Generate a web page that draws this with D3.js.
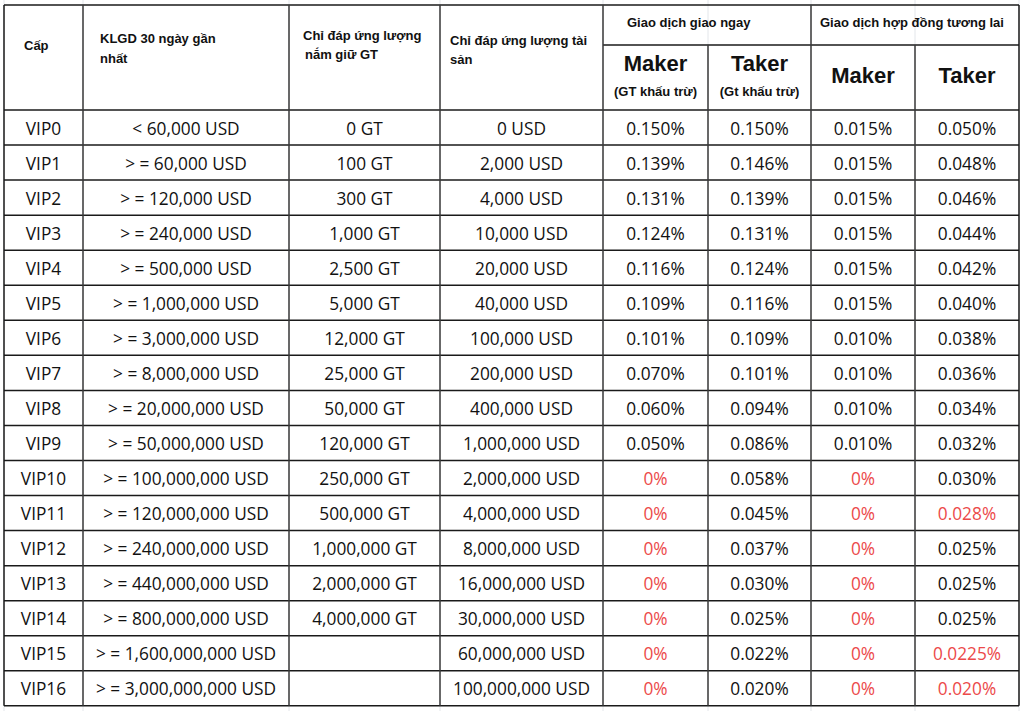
<!DOCTYPE html>
<html>
<head>
<meta charset="utf-8">
<script src="https://cdn.jsdelivr.net/npm/d3@7"></script>
<style>
  body { margin: 0; background: #fff; }
  svg { display: block; }
</style>
</head>
<body>
<script>
// table values
var levels = ["VIP0","VIP1","VIP2","VIP3","VIP4","VIP5","VIP6","VIP7","VIP8","VIP9","VIP10","VIP11","VIP12","VIP13","VIP14","VIP15","VIP16"];
var volume30d = ["< 60,000 USD","> = 60,000 USD","> = 120,000 USD","> = 240,000 USD","> = 500,000 USD","> = 1,000,000 USD","> = 3,000,000 USD","> = 8,000,000 USD","> = 20,000,000 USD","> = 50,000,000 USD","> = 100,000,000 USD","> = 120,000,000 USD","> = 240,000,000 USD","> = 440,000,000 USD","> = 800,000,000 USD","> = 1,600,000,000 USD","> = 3,000,000,000 USD"];
var gtHolding = ["0 GT","100 GT","300 GT","1,000 GT","2,500 GT","5,000 GT","12,000 GT","25,000 GT","50,000 GT","120,000 GT","250,000 GT","500,000 GT","1,000,000 GT","2,000,000 GT","4,000,000 GT","",""];
var assets = ["0 USD","2,000 USD","4,000 USD","10,000 USD","20,000 USD","40,000 USD","100,000 USD","200,000 USD","400,000 USD","1,000,000 USD","2,000,000 USD","4,000,000 USD","8,000,000 USD","16,000,000 USD","30,000,000 USD","60,000,000 USD","100,000,000 USD"];
var spotMaker = ["0.150%","0.139%","0.131%","0.124%","0.116%","0.109%","0.101%","0.070%","0.060%","0.050%","0%","0%","0%","0%","0%","0%","0%"];
var spotTaker = ["0.150%","0.146%","0.139%","0.131%","0.124%","0.116%","0.109%","0.101%","0.094%","0.086%","0.058%","0.045%","0.037%","0.030%","0.025%","0.022%","0.020%"];
var futMaker = ["0.015%","0.015%","0.015%","0.015%","0.015%","0.015%","0.010%","0.010%","0.010%","0.010%","0%","0%","0%","0%","0%","0%","0%"];
var futTaker = ["0.050%","0.048%","0.046%","0.044%","0.042%","0.040%","0.038%","0.036%","0.034%","0.032%","0.030%","0.028%","0.025%","0.025%","0.025%","0.0225%","0.020%"];
// cells shown in red
var redCells = {
  spotMaker: ["0%"],
  futMaker: ["0%"],
  futTaker: ["0.028%","0.0225%","0.020%"]
};

var width = 1023, height = 711;
var colEdges = [4, 83, 289, 440, 603, 708, 811, 915, 1019];
var tableTop = 5, headH = 105, subTop = 40;
var red = "#ec4a4a";
var font = "'Segoe UI','Open Sans','Noto Sans',sans-serif";
var headFont = "Tahoma,'Liberation Sans',Arial,sans-serif";

var svg = d3.select("body").append("svg")
  .attr("width", width).attr("height", height);

var y = d3.scaleBand()
  .domain(levels)
  .range([tableTop + headH, tableTop + headH + levels.length * 35.05]);

var columns = [
  {key: "level", vals: levels},
  {key: "volume", vals: volume30d},
  {key: "gt", vals: gtHolding},
  {key: "assets", vals: assets},
  {key: "spotMaker", vals: spotMaker},
  {key: "spotTaker", vals: spotTaker},
  {key: "futMaker", vals: futMaker},
  {key: "futTaker", vals: futTaker}
];

// faint spreadsheet grid outside the table
var bg = svg.append("g").attr("stroke", "#e3e6ea").attr("stroke-width", 1);
colEdges.forEach(function(x){
  bg.append("line").attr("x1", x).attr("x2", x).attr("y1", 0).attr("y2", height);
});

// body text
var body = svg.append("g").attr("font-family", font).attr("font-size", 17.3);
columns.forEach(function(c, ci){
  var cx = (colEdges[ci] + colEdges[ci+1]) / 2;
  body.selectAll("text.c" + ci)
    .data(c.vals)
    .enter().append("text")
    .attr("class", "c" + ci)
    .attr("x", cx)
    .attr("y", function(d, i){ return y(levels[i]) + y.bandwidth()/2 + 7; })
    .attr("text-anchor", "middle")
    .attr("fill", function(d){
      var r = redCells[c.key];
      return (r && r.indexOf(d) != -1) ? red : "#111";
    })
    .text(function(d){ return d; });
});

// header text
var head = svg.append("g").attr("font-family", headFont).attr("font-weight", "bold").attr("fill", "#111");
var headLines = [
  {x: 24, y: 50, t: "Cấp", s: 13},
  {x: 100, y: 43, t: "KLGD 30 ngày gần", s: 13},
  {x: 100, y: 63, t: "nhất", s: 13},
  {x: 303, y: 40, t: "Chỉ đáp ứng lượng", s: 13},
  {x: 305, y: 59, t: "nắm giữ GT", s: 13},
  {x: 450, y: 45, t: "Chỉ đáp ứng lượng tài", s: 13},
  {x: 450, y: 64, t: "sản", s: 13},
  {x: 627, y: 27, t: "Giao dịch giao ngay", s: 13},
  {x: 820, y: 27, t: "Giao dịch hợp đồng tương lai", s: 13}
];
head.selectAll("text.h")
  .data(headLines)
  .enter().append("text")
  .attr("class", "h")
  .attr("x", function(d){ return d.x; })
  .attr("y", function(d){ return d.y; })
  .attr("font-size", function(d){ return d.s; })
  .text(function(d){ return d.t; });

var subHeads = [
  {col: 4, y: 71, t: "Maker", s: 22},
  {col: 4, y: 96, t: "(GT khấu trừ)", s: 13},
  {col: 5, y: 71, t: "Taker", s: 22},
  {col: 5, y: 96, t: "(Gt khấu trừ)", s: 13},
  {col: 6, y: 83, t: "Maker", s: 22},
  {col: 7, y: 83, t: "Taker", s: 22}
];
head.selectAll("text.sh")
  .data(subHeads)
  .enter().append("text")
  .attr("class", "sh")
  .attr("x", function(d){ return (colEdges[d.col] + colEdges[d.col+1]) / 2; })
  .attr("y", function(d){ return d.y; })
  .attr("text-anchor", "middle")
  .attr("font-size", function(d){ return d.s; })
  .text(function(d){ return d.t; });

// grid lines
var grid = svg.append("g").attr("stroke", "#1a1a1a").attr("stroke-width", 1.5).attr("fill", "none");
var bottom = y.range()[1];
// horizontal
var hy = [tableTop, tableTop + headH].concat(levels.map(function(l){ return y(l) + y.bandwidth(); }));
hy.forEach(function(v){
  grid.append("line").attr("x1", colEdges[0]).attr("x2", colEdges[8]).attr("y1", v).attr("y2", v);
});
grid.append("line").attr("x1", colEdges[4]).attr("x2", colEdges[8]).attr("y1", tableTop + subTop).attr("y2", tableTop + subTop);
// vertical
colEdges.forEach(function(x, i){
  var y1 = (i == 5 || i == 7) ? tableTop + subTop : tableTop;
  grid.append("line").attr("x1", x).attr("x2", x).attr("y1", y1).attr("y2", bottom)
    .attr("stroke", (i == 0 || i == 8) ? "#1a1a1a" : "#3a3a3a");
});
</script>
</body>
</html>
